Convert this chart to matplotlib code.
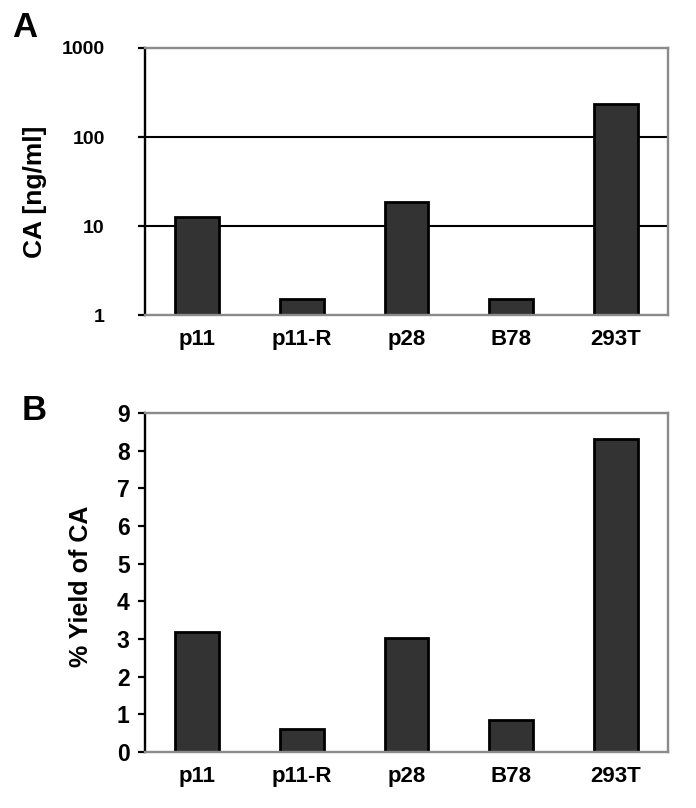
import numpy as np
import matplotlib.pyplot as plt
from matplotlib.ticker import FixedLocator, FixedFormatter

plt.rcParams['font.family'] = ['Liberation Sans', 'DejaVu Sans']
plt.rcParams['font.weight'] = 'bold'

cells = ['p11', 'p11-R', 'p28', 'B78', '293T']
ca_conc = [12.7, 1.5, 18.8, 1.5, 235]       # ng/ml, panel A
ca_yield = [3.19, 0.6, 3.03, 0.85, 8.31]    # %, panel B

log_ticks = [1, 10, 100, 1000]
log_ticklabels = ['1', '10', '100', '1000']
yield_ticks = list(range(10))

BAR_COLOR = '#333333'
FRAME_GRAY = '#8a8a8a'


def style_axes(ax):
    ax.spines['left'].set_color('black')
    ax.spines['left'].set_linewidth(1.7)
    for side in ['top', 'right', 'bottom']:
        ax.spines[side].set_color(FRAME_GRAY)
        ax.spines[side].set_linewidth(1.7)
    ax.tick_params(axis='x', length=0, pad=10, labelsize=16)
    ax.set_xlim(-0.5, len(cells) - 0.5)
    ax.set_xticks(np.arange(len(cells)))
    ax.set_xticklabels(cells, fontweight='bold')


def main():
    fig = plt.figure(figsize=(6.96, 8.08), dpi=100)
    x = np.arange(len(cells))

    # Panel A: CA concentration, log scale
    ax1 = fig.add_axes([0.2083, 0.6101, 0.7515, 0.3305])
    ax1.set_yscale('log')
    ax1.set_ylim(1, 1000)
    for g in [10, 100]:
        ax1.axhline(g, color='black', linewidth=1.5, zorder=1)
    ax1.bar(x, ca_conc, width=0.42, color=BAR_COLOR, edgecolor='black',
            linewidth=2.0, zorder=2)
    ax1.yaxis.set_major_locator(FixedLocator(log_ticks))
    ax1.yaxis.set_major_formatter(FixedFormatter(log_ticklabels))
    ax1.yaxis.set_minor_locator(FixedLocator([]))
    ax1.tick_params(axis='y', direction='out', length=5, width=1.6, pad=24,
                    labelsize=14)
    style_axes(ax1)
    ax1.set_ylabel('CA [ng/ml]', fontsize=19, fontweight='bold')
    ax1.yaxis.set_label_coords(-0.187, 0.46)

    # Panel B: % yield of CA
    ax2 = fig.add_axes([0.2083, 0.0693, 0.7515, 0.4196])
    ax2.set_ylim(0, 9)
    ax2.bar(x, ca_yield, width=0.42, color=BAR_COLOR, edgecolor='black',
            linewidth=2.0, zorder=2)
    ax2.set_yticks(yield_ticks)
    ax2.tick_params(axis='y', direction='out', length=5, width=1.6, pad=6,
                    labelsize=16.5)
    style_axes(ax2)
    ax2.set_ylabel('% Yield of CA', fontsize=18, fontweight='bold')
    ax2.yaxis.set_label_coords(-0.099, 0.49)

    for lab in ax1.get_yticklabels() + ax2.get_yticklabels():
        lab.set_fontweight('bold')

    fig.text(0.017, 0.954, 'A', fontsize=25, fontweight='bold', va='baseline')
    fig.text(0.031, 0.480, 'B', fontsize=25, fontweight='bold', va='baseline')

    fig.savefig('out.png', dpi=100)


if __name__ == '__main__':
    main()
